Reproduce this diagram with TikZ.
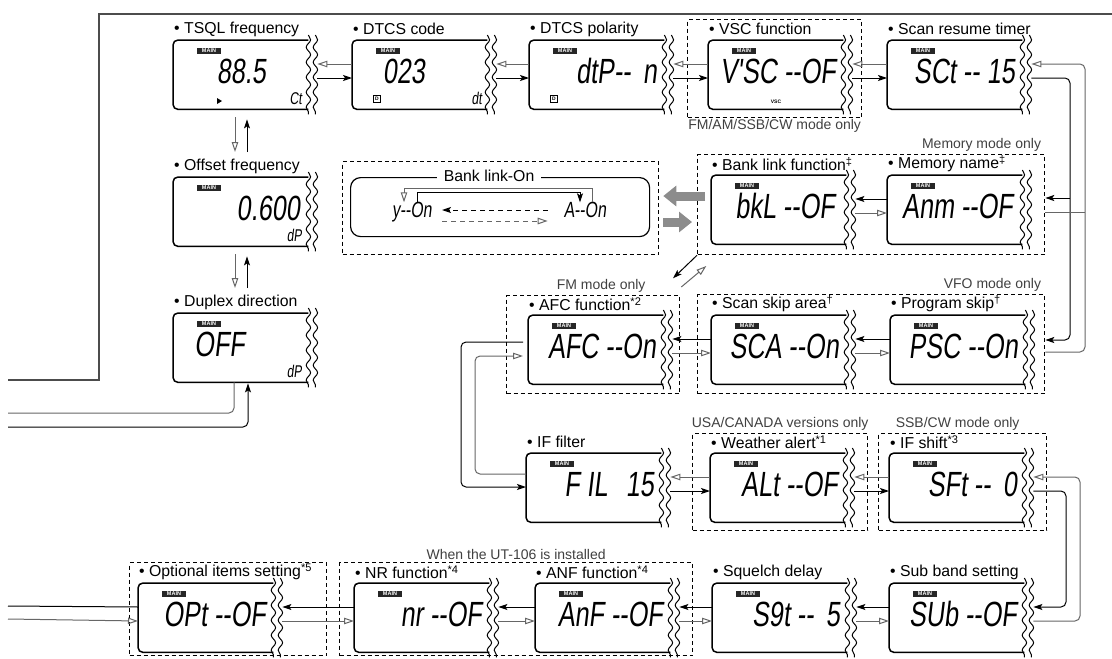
\documentclass[tikz,border=0pt]{standalone}
\usepackage{fontspec}
\setmainfont{Liberation Sans}
\newfontfamily\lcdfont[FakeSlant=0.12, FakeStretch=0.72]{Liberation Sans}
\usepackage{tikz}
\usetikzlibrary{positioning, arrows.meta, calc, decorations.pathmorphing}

% one LCD panel: [readout end] name, top-left corner, caption, readout
\newcommand{\lcdbox}[5][128]{%
  \node[lcd] (#2) at #3 {};
  \draw[lcdline, rounded corners=5pt] (#2.north east) -- (#2.north west) -- (#2.south west) -- (#2.south east);
  \draw[wave] ($(#2.north east)+(0,-5)$) -- ($(#2.south east)+(0,5)$);
  \draw[wave] ($(#2.north east)+(7,-5)$) -- ($(#2.south east)+(7,5)$);
  \node[lab, anchor=west] (#2-l) at ($(#2.north west)+(1,-11)$) {#4};
  \node[tag] (#2-m) at ($(#2.north west)+(36,11)$) {MAIN};
  \node[seg, anchor=base east] (#2-r) at ($(#2.north west)+(#1,43)$) {#5};
  \coordinate (#2-iu) at ($(#2.north west)+(0,24)$);
  \coordinate (#2-il) at ($(#2.north west)+(0,38)$);
  \coordinate (#2-ou) at ($(#2.north east)+(9,24)$);
  \coordinate (#2-ol) at ($(#2.north east)+(9,38)$);
}

\begin{document}
\begin{tikzpicture}[x=1pt, y=-1pt,
  lcd/.style={minimum width=135pt, minimum height=69pt, inner sep=0pt, anchor=north west},
  lcdline/.style={line width=1.5pt},
  wave/.style={line width=1pt, decorate, decoration={snake, amplitude=2.2pt, segment length=15pt}},
  lab/.style={inner sep=0pt, font=\fontsize{15.8}{18}\selectfont},
  note/.style={inner sep=1pt, text=black!75, font=\fontsize{14}{16}\selectfont},
  seg/.style={inner sep=0pt, font=\lcdfont\fontsize{35}{40}\selectfont},
  segs/.style={inner sep=0pt, text height=15pt, text depth=0pt, font=\lcdfont\fontsize{22}{24}\selectfont},
  ind/.style={inner sep=0pt, anchor=base east, font=\lcdfont\fontsize{17}{18}\selectfont},
  tag/.style={fill=black!85, text=white, inner sep=0pt, minimum width=24pt, minimum height=6.5pt, font=\bfseries\fontsize{5.5}{6}\selectfont},
  dicon/.style={draw, line width=0.6pt, inner sep=0.6pt, minimum size=7pt, font=\bfseries\fontsize{5}{5}\selectfont},
  dbox/.style={draw, dash pattern=on 4pt off 3pt, line width=1.3pt, inner sep=0pt, anchor=north west},
  fil/.style={-{Stealth[length=9pt, width=6pt, inset=2pt]}, line width=1pt},
  hol/.style={-{Triangle[open, length=10pt, width=6.5pt]}, line width=1pt, draw=black!60},
  gline/.style={line width=1pt, draw=black!60},
  gbar/.style={line width=9pt, draw=black!45, -{Triangle[length=13pt, width=20pt]}},
  frame/.style={line width=1.2pt, draw=black!70}
]
  \useasboundingbox (0,0) rectangle (1112,659);

  % dashed groups
  \node[dbox, minimum width=174pt, minimum height=98pt] (vscz) at (687,19) {};
  \node[dbox, minimum width=316pt, minimum height=93pt] (bonz) at (342,161) {};
  \node[dbox, minimum width=347pt, minimum height=100pt] (memz) at (697,154) {};
  \node[dbox, minimum width=173pt, minimum height=98pt] (afcz) at (506,295) {};
  \node[dbox, minimum width=347pt, minimum height=99pt] (vfoz) at (697,294) {};
  \node[dbox, minimum width=175pt, minimum height=97pt] (wxz) at (692,433) {};
  \node[dbox, minimum width=168pt, minimum height=97pt] (sftz) at (878,433) {};
  \node[dbox, minimum width=197pt, minimum height=93pt] (optz) at (129,562) {};
  \node[dbox, minimum width=353pt, minimum height=93pt] (utz) at (339,562) {};

  \node[note, anchor=north] (vscz-n) at (vscz.south) {FM/AM/SSB/CW mode only};
  \node[note, anchor=south east] (memz-n) at ($(memz.north east)+(-3,-1)$) {Memory mode only};
  \node[note, anchor=south east] (vfoz-n) at ($(vfoz.north east)+(-3,-1)$) {VFO mode only};
  \node[note, anchor=south] (afcz-n) at ($(afcz.north)+(8,-1)$) {FM mode only};
  \node[note, anchor=south] (wxz-n) at ($(wxz.north)+(0,-1)$) {USA/CANADA versions only};
  \node[note, anchor=south] (sftz-n) at ($(sftz.north)+(-5,-1)$) {SSB/CW mode only};
  \node[note, anchor=south] (utz-n) at ($(utz.north)+(0,-1)$) {When the UT-106 is installed};

  % panels
  \lcdbox[93]{tsql}{(173,40)}{• TSQL frequency}{88.5}
  \lcdbox[73]{dcode}{(352,40)}{• DTCS code}{023}
  \lcdbox{dpol}{(529,40)}{• DTCS polarity}{dtP-{}-\hspace{12pt}n}
  \lcdbox{vsc}{(708,40)}{• VSC function}{V'SC -{}-OF}
  \lcdbox{sct}{(887,40)}{• Scan resume timer}{SCt -{}- 15}
  \lcdbox[127]{offs}{(173,177)}{• Offset frequency}{0.600}
  \lcdbox[72]{dup}{(173,313)}{• Duplex direction}{OFF}
  \lcdbox[124]{bank}{(711,175)}{• Bank link function\textsuperscript{‡}}{bkL -{}-OF}
  \lcdbox[126]{mem}{(887,175)}{• Memory name\textsuperscript{‡}}{Anm -{}-OF}
  \lcdbox{afc}{(528,315)}{• AFC function\textsuperscript{*2}}{AFC -{}-On}
  \lcdbox{skip}{(711,315)}{• Scan skip area\textsuperscript{†}}{SCA -{}-On}
  \lcdbox{psk}{(890,315)}{• Program skip\textsuperscript{†}}{PSC -{}-On}
  \lcdbox{iff}{(526,453)}{• IF filter}{F IL\hspace{18pt}15}
  \lcdbox{wx}{(710,453)}{• Weather alert\textsuperscript{*1}}{ALt -{}-OF}
  \lcdbox{sft}{(889,453)}{• IF shift\textsuperscript{*3}}{SFt -{}-\hspace{12pt}0}
  \lcdbox{opt}{(138,583)}{• Optional items setting\textsuperscript{*5}}{OPt -{}-OF}
  \lcdbox{nr}{(354,583)}{• NR function\textsuperscript{*4}}{nr -{}-OF}
  \lcdbox{anf}{(535,583)}{• ANF function\textsuperscript{*4}}{AnF -{}-OF}
  \lcdbox{sql}{(712,583)}{• Squelch delay}{S9t -{}-\hspace{12pt}5}
  \lcdbox{sub}{(889,583)}{• Sub band setting}{SUb -{}-OF}

  % small indicators
  \node[ind] (tsql-i) at ($(tsql.north west)+(129,64)$) {Ct};
  \node[ind] (dcode-i) at ($(dcode.north west)+(130,64)$) {dt};
  \node[ind] (offs-i) at ($(offs.north west)+(129,64)$) {dP};
  \node[ind] (dup-i) at ($(dup.north west)+(129,64)$) {dP};
  \node[dicon] (dcode-d) at ($(dcode.north west)+(25,59)$) {D};
  \node[dicon] (dpol-d) at ($(dpol.north west)+(25,59)$) {D};
  \node[inner sep=0pt, font=\bfseries\fontsize{5}{6}\selectfont] (vsc-t) at ($(vsc.north west)+(68,62)$) {VSC};
  \fill ($(tsql.north west)+(44,58)$) -- ++(5,3) -- ++(-5,3) -- cycle;

  % top row
  \draw[hol] (dcode-iu) -- (tsql-ou);
  \draw[fil] (tsql-ol) -- (dcode-il);
  \draw[hol] (dpol-iu) -- (dcode-ou);
  \draw[fil] (dcode-ol) -- (dpol-il);
  \draw[hol] (vsc-iu) -- (dpol-ou);
  \draw[fil] (dpol-ol) -- (vsc-il);
  \draw[hol] (sct-iu) -- (vsc-ou);
  \draw[fil] (vsc-ol) -- (sct-il);

  % left column
  \draw[hol] ($(tsql.south west)+(62,8)$) -- ($(offs.north west)+(62,-25)$);
  \draw[fil] ($(offs.north west)+(74,-25)$) -- ($(tsql.south west)+(74,10)$);
  \draw[hol] ($(offs.south west)+(62,8)$) -- ($(dup.north west)+(62,-25)$);
  \draw[fil] ($(dup.north west)+(74,-25)$) -- ($(offs.south west)+(74,10)$);

  \coordinate (dw1) at (8,413);
  \coordinate (dw2) at (8,427);
  \draw[gline, rounded corners=5pt] ($(dup.south west)+(61,0)$) |- (dw1);
  \draw[fil, rounded corners=5pt] (dw2) -| ($(dup.south west)+(75,1)$);

  \coordinate (fr1) at (1112,14);
  \coordinate (fr2) at (99,380);
  \coordinate (fr3) at (8,380);
  \draw[frame] (fr1) -| (fr2) -- (fr3);

  % bank link-on
  \node[draw, line width=1.2pt, rounded corners=10pt, minimum width=299pt, minimum height=59pt, anchor=north west] (bon) at (350,177) {};
  \node[lab, fill=white, inner xsep=7pt, inner ysep=1pt] (bon-l) at ($(bon.north)+(-11,-1)$) {Bank link-On};
  \node[segs] (yon) at (412,210) {y-{}-On};
  \node[segs] (aon) at (585,210) {A-{}-On};
  \draw[hol] ([xshift=7pt]aon.north) -- ++(0,-14) -| ([xshift=-8pt]yon.north);
  \draw[fil] ([xshift=5pt]yon.north) -- ++(0,-10) -| ([xshift=-5pt]aon.north);
  \draw[fil, dash pattern=on 5pt off 4pt] ($(aon.west)+(-16,0)$) -- ($(yon.east)+(10,0)$);
  \draw[hol, dash pattern=on 5pt off 4pt] ($(yon.east)+(10,11)$) -- ($(aon.west)+(-16,11)$);

  \draw[gbar] ($(bank.north west)+(-6,21)$) -- ($(bonz.north east)+(4,35)$);
  \draw[gbar] ($(bonz.north east)+(4,61)$) -- ($(bank.north west)+(-19,47)$);

  % memory row
  \draw[fil] (mem-iu) -- (bank-ou);
  \draw[hol] (bank-ol) -- (mem-il);

  \draw[fil] (memz.south west) -- ($(memz.south west)+(-24,23)$);
  \draw[hol] ($(afcz.north east)+(1,-8)$) -- ($(afcz.north east)+(26,-29)$);

  % vfo row
  \draw[fil] (skip-iu) -- (afc-ou);
  \draw[hol] (afc-ol) -- (skip-il);
  \draw[fil] (psk-iu) -- (skip-ou);
  \draw[hol] (skip-ol) -- (psk-il);

  % right side loops
  \coordinate (ra) at (1070,0);
  \coordinate (rb) at (1085,0);
  \coordinate (mem-e1) at ($(memz.north east)+(0,44)$);
  \coordinate (mem-e2) at ($(memz.north east)+(0,58)$);
  \coordinate (psk-e1) at ($(vfoz.north east)+(0,46)$);
  \coordinate (psk-e2) at ($(vfoz.north east)+(0,58)$);
  \draw[fil, rounded corners=5pt] (sct-ol) -| (ra |- psk-e1) -- (psk-e1);
  \draw[fil] (ra |- mem-e1) -- (mem-e1);
  \draw[hol, rounded corners=5pt] (psk-e2) -| (rb |- sct-ou) -- (sct-ou);
  \draw[gline] (mem-e2) -- (rb |- mem-e2);

  \coordinate (rc) at (1066,0);
  \coordinate (rd) at (1080,0);
  \draw[fil, rounded corners=5pt] (sft-ol) -| (rc |- sub-ou) -- (sub-ou);
  \draw[hol, rounded corners=5pt] (sub-ol) -| (rd |- sft-ou) -- (sft-ou);

  % if filter row
  \draw[hol] (wx-iu) -- (iff-ou);
  \draw[fil] (iff-ol) -- (wx-il);
  \draw[hol] (sft-iu) -- (wx-ou);
  \draw[fil] (wx-ol) -- (sft-il);

  \coordinate (la) at (461,0);
  \coordinate (lb) at (475,0);
  \coordinate (afc-w1) at ($(afc.north west)+(-5,27)$);
  \coordinate (afc-w2) at ($(afc.north west)+(-5,41)$);
  \coordinate (iff-w1) at ($(iff.north west)+(0,21)$);
  \coordinate (iff-w2) at ($(iff.north west)+(0,34)$);
  \draw[fil, rounded corners=5pt] (afc-w1) -| (la |- iff-w2) -- (iff-w2);
  \draw[hol, rounded corners=5pt] (iff-w1) -| (lb |- afc-w2) -- (afc-w2);

  % bottom row
  \draw[fil] (nr-iu) -- (opt-ou);
  \draw[hol] (opt-ol) -- (nr-il);
  \draw[fil] (anf-iu) -- (nr-ou);
  \draw[hol] (nr-ol) -- (anf-il);
  \draw[fil] (sql-iu) -- (anf-ou);
  \draw[hol] (anf-ol) -- (sql-il);
  \draw[fil] (sub-iu) -- (sql-ou);
  \draw[hol] (sql-ol) -- (sub-il);

  \coordinate (ow1) at (8,606);
  \coordinate (ow2) at (8,619);
  \draw[line width=1pt] (opt-iu) -- (ow1);
  \draw[hol] (ow2) -- (opt-il);
\end{tikzpicture}
\end{document}
